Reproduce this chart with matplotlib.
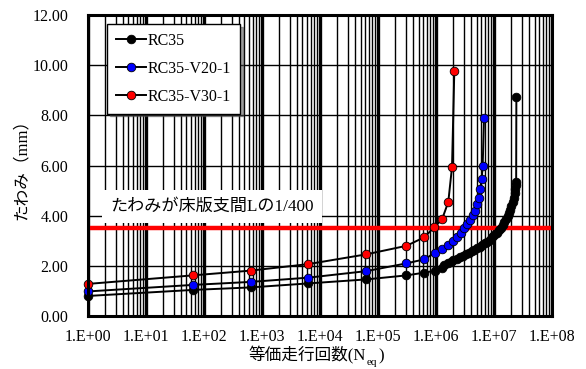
import matplotlib
matplotlib.use("Agg")
import matplotlib.pyplot as plt
from matplotlib.ticker import FixedLocator, FuncFormatter, LogLocator, NullFormatter
import numpy as np

plt.rcParams['font.family'] = ['Liberation Serif', 'Noto Sans CJK JP']

############# DATA #############

# RC35 (black)
n_rc35 = [1, 64, 635, 6.3e3, 6.3e4, 3.1e5, 6.3e5, 9.8e5, 1.26e6,
          1.4e6, 1.6e6, 1.8e6, 2.0e6, 2.3e6, 2.6e6, 2.9e6, 3.3e6, 3.7e6,
          4.1e6, 4.6e6, 5.1e6, 5.7e6, 6.3e6, 7.0e6, 7.7e6, 8.5e6, 9.3e6,
          1.02e7, 1.11e7, 1.21e7, 1.31e7, 1.41e7, 1.51e7, 1.61e7, 1.71e7,
          1.81e7, 1.91e7, 2.0e7, 2.1e7, 2.2e7, 2.28e7, 2.34e7, 2.38e7,
          2.41e7, 2.43e7]
d_rc35 = [0.80, 1.04, 1.14, 1.30, 1.46, 1.62, 1.73, 1.81, 1.93,
          2.04, 2.10, 2.16, 2.22, 2.29, 2.35, 2.41, 2.47, 2.53,
          2.58, 2.64, 2.70, 2.76, 2.83, 2.90, 2.97, 3.05, 3.14,
          3.23, 3.33, 3.43, 3.52, 3.62, 3.73, 3.85, 3.97,
          4.10, 4.24, 4.38, 4.55, 4.72, 4.90, 5.08, 5.24,
          5.36, 8.74]

# RC35-V20-1 (blue)
n_v20 = [1, 64, 635, 6.3e3, 6.3e4, 3.1e5, 6.3e5, 9.6e5, 1.27e6, 1.61e6,
         1.94e6, 2.33e6, 2.67e6, 3.08e6, 3.47e6, 3.85e6, 4.30e6, 4.70e6,
         5.04e6, 5.45e6, 5.74e6, 6.14e6, 6.38e6, 6.73e6]
d_v20 = [0.98, 1.24, 1.36, 1.53, 1.79, 2.10, 2.26, 2.52, 2.67, 2.83,
         3.00, 3.16, 3.30, 3.50, 3.67, 3.83, 4.03, 4.20,
         4.45, 4.72, 5.05, 5.46, 5.99, 7.88]

# RC35-V30-1 (red)
n_v30 = [1, 64, 635, 6.3e3, 6.3e4, 3.1e5, 6.3e5, 9.3e5, 1.27e6, 1.63e6,
         1.89e6, 2.07e6]
d_v30 = [1.28, 1.62, 1.81, 2.07, 2.46, 2.80, 3.14, 3.54, 3.85, 4.55,
         5.95, 9.78]

limit_d = 3.52  # L/400
limit_text = 'たわみが床版支間Lの1/400'

############# PLOT #############

fig = plt.figure(figsize=(5.86, 3.69), dpi=100)
ax = fig.add_axes([0.150, 0.1436, 0.792, 0.8154])

ax.set_xscale('log')
ax.set_xlim(1, 1e8)
ax.set_ylim(0, 12)

# grid: thick decades, thin 2..9
ax.xaxis.set_major_locator(LogLocator(base=10, numticks=20))
ax.xaxis.set_minor_locator(LogLocator(base=10, subs=np.arange(2, 10), numticks=20))
ax.xaxis.set_minor_formatter(NullFormatter())
ax.xaxis.set_major_formatter(FuncFormatter(lambda v, p: '1.E+%02d' % int(round(np.log10(v)))))
ax.yaxis.set_major_locator(FixedLocator(np.arange(0, 12.1, 2)))
ax.yaxis.set_major_formatter(FuncFormatter(lambda v, p: '%.2f' % v))

ax.grid(True, which='major', axis='x', color='black', lw=2.4)
ax.grid(True, which='minor', axis='x', color='black', lw=1.0)
ax.grid(True, which='major', axis='y', color='black', lw=1.0)
ax.set_axisbelow(True)

ax.tick_params(which='both', length=0, labelsize=11.5)
ax.tick_params(axis='x', pad=9)
ax.tick_params(axis='y', pad=14)
for s in ax.spines.values():
    s.set_linewidth(2.2)
    s.set_zorder(5)

# L/400 line
ax.axhline(limit_d, color='#ff0000', lw=3.2, zorder=2.5)

mk = dict(marker='o', ms=6.2, mec='black', mew=0.6, lw=1.4, color='black', clip_on=False, zorder=3)
ax.plot(n_rc35, d_rc35, mfc='black', label='RC35', **mk)
ax.plot(n_v20, d_v20, mfc='#0000ff', label='RC35-V20-1', **mk)
ax.plot(n_v30, d_v30, mfc='#ff0000', label='RC35-V30-1', **mk)

ax.text(0.048, 0.363, limit_text, transform=ax.transAxes, fontsize=12.3,
        ha='left', va='center',
        bbox=dict(facecolor='white', edgecolor='none', pad=6), zorder=4)

leg = ax.legend(loc='upper left', bbox_to_anchor=(0.041, 0.97), borderaxespad=0,
                fontsize=11.5, frameon=True, fancybox=False, shadow=True,
                edgecolor='black', framealpha=1, handlelength=1.9,
                handletextpad=0.1, labelspacing=0.75, borderpad=0.55)
leg.get_frame().set_linewidth(1.0)
leg.set_zorder(6)

ax.set_ylabel('たわみ（mm）', fontsize=12, labelpad=2)

# x label with subscript
base_y = 0.022
t = fig.text(0.525, base_y, '等価走行回数(N', fontsize=12, ha='center', va='baseline')
fig.canvas.draw()
bb = t.get_window_extent()
t2 = fig.text(bb.x1 / fig.bbox.width, base_y - 0.01, 'eq', fontsize=8, ha='left', va='baseline')
fig.canvas.draw()
bb2 = t2.get_window_extent()
fig.text(bb2.x1 / fig.bbox.width + 0.003, base_y, ')', fontsize=12, ha='left', va='baseline')

fig.savefig('out.png', dpi=100)
